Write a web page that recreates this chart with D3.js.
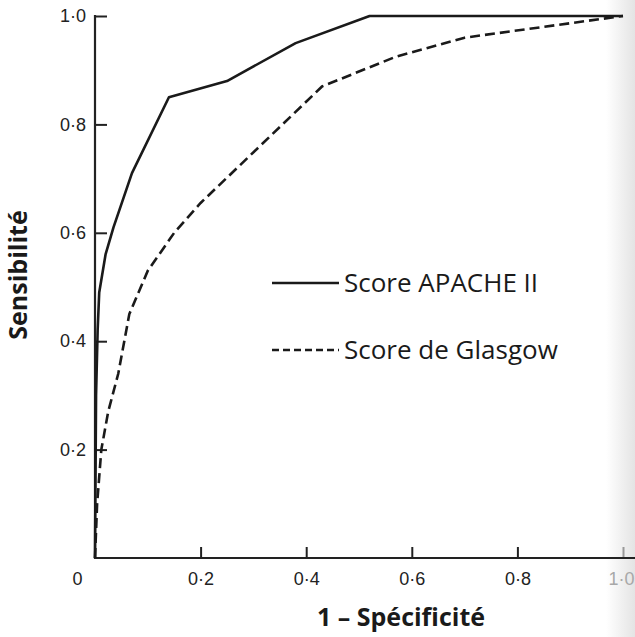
<!DOCTYPE html>
<html lang="fr">
    <head>
        <meta charset="utf-8">
        <script type="text/javascript" src="https://cdn.jsdelivr.net/npm/d3@7"></script>
        <title>Courbes ROC</title>
        <style>
            body { margin: 0; background: #fff; }
        </style>
    </head>
    <body>
        <script type="text/javascript">
            var w = 635;
            var h = 637;

            // data: 1 - specificity (x) and sensitivity (y)
            var apacheX = [0, 0.002, 0.005, 0.008, 0.02, 0.035, 0.07, 0.14, 0.25, 0.38, 0.52, 1.0];
            var apacheY = [0, 0.30, 0.42, 0.49, 0.56, 0.61, 0.71, 0.85, 0.88, 0.95, 1.0, 1.0];

            var glasgowX = [0, 0.004, 0.012, 0.025, 0.044, 0.065, 0.10, 0.15, 0.20, 0.43, 0.57, 0.70, 1.0];
            var glasgowY = [0, 0.10, 0.20, 0.27, 0.34, 0.45, 0.53, 0.60, 0.655, 0.87, 0.925, 0.96, 1.0];

            var xTicks = [0, 0.2, 0.4, 0.6, 0.8, 1.0];
            var yTicks = [0.2, 0.4, 0.6, 0.8, 1.0];

            var seriesNames = ["Score APACHE II", "Score de Glasgow"];

            // scales
            var xScale = d3.scaleLinear()
                            .domain([0, 1])
                            .range([95, 623]);

            var yScale = d3.scaleLinear()
                            .domain([0, 1])
                            .range([558, 16]);

            var svg = d3.select("body")
                        .append("svg")
                        .attr("width", w)
                        .attr("height", h);

            // faint scan shadow along the right edge
            var grad = svg.append("defs")
                        .append("linearGradient")
                        .attr("id", "edge")
                        .attr("x1", "0%").attr("x2", "100%");
            grad.append("stop").attr("offset", "0%").attr("stop-color", "#fff");
            grad.append("stop").attr("offset", "100%").attr("stop-color", "#e4e4e4");
            svg.append("rect")
                .attr("x", 606)
                .attr("y", 0)
                .attr("width", w - 606)
                .attr("height", h)
                .attr("fill", "url(#edge)");

            var fmt = function(d){
                return d === 0 ? "0" : d3.format(".1f")(d).replace(".", "\u00b7");
            };

            // y axis, ticks pointing inwards
            var yAxis = d3.axisLeft(yScale)
                            .tickValues(yTicks)
                            .tickSize(-12)
                            .tickSizeOuter(0)
                            .tickPadding(9)
                            .tickFormat(fmt);

            var gy = svg.append("g")
                        .attr("transform", "translate(" + xScale(0) + ",0)")
                        .call(yAxis);

            // x axis, ticks pointing up
            var xAxis = d3.axisBottom(xScale)
                            .tickValues(xTicks)
                            .tickSize(-11)
                            .tickSizeOuter(0)
                            .tickPadding(14)
                            .tickFormat(fmt);

            var gx = svg.append("g")
                        .attr("transform", "translate(0," + yScale(0) + ")")
                        .call(xAxis);

            [gx, gy].forEach(function(g){
                g.select(".domain").remove();
                g.selectAll(".tick line")
                    .attr("stroke", "#222")
                    .attr("stroke-width", 2);
                g.selectAll(".tick text")
                    .attr("font-family", "'Liberation Sans', Arial, sans-serif")
                    .attr("font-size", "18px")
                    .attr("fill", "#222");
            });

            // the 0 sits left of the corner, with no tick
            gx.selectAll(".tick")
                .filter(function(d){ return d === 0; })
                .call(function(t){
                    t.select("line").remove();
                    t.select("text").attr("x", -18);
                });

            // the 1.0 at the page edge is faded
            gx.selectAll(".tick")
                .filter(function(d){ return d === 1; })
                .call(function(t){
                    t.select("text").attr("fill", "#a8a8a8").attr("x", -2);
                    t.select("line").attr("stroke", "#999");
                });

            // axis lines
            svg.append("line")
                .attr("x1", xScale(0)).attr("x2", xScale(0))
                .attr("y1", yScale(1) - 1).attr("y2", yScale(0) + 1)
                .attr("stroke", "#222")
                .attr("stroke-width", 2.2);

            svg.append("line")
                .attr("x1", xScale(0) - 1).attr("x2", w)
                .attr("y1", yScale(0)).attr("y2", yScale(0))
                .attr("stroke", "#222")
                .attr("stroke-width", 2.2);

            // curves
            var line = d3.line()
                            .x(function(d){ return xScale(d[0]); })
                            .y(function(d){ return yScale(d[1]); });

            var apache = d3.zip(apacheX, apacheY);
            var glasgow = d3.zip(glasgowX, glasgowY);

            svg.append("path")
                .datum(glasgow)
                .attr("d", line)
                .attr("fill", "none")
                .attr("stroke", "#1a1a1a")
                .attr("stroke-width", 2.6)
                .attr("stroke-dasharray", "10,5");

            svg.append("path")
                .datum(apache)
                .attr("d", line)
                .attr("fill", "none")
                .attr("stroke", "#1a1a1a")
                .attr("stroke-width", 2.6)
                .attr("stroke-linejoin", "round");

            // legend
            var legend = svg.selectAll(".legend")
                            .data(seriesNames)
                            .enter()
                            .append("g")
                            .attr("class", "legend")
                            .attr("transform", function(d, i){
                                return "translate(272," + (283 + i * 67) + ")";
                            });

            legend.append("line")
                .attr("x1", 0)
                .attr("x2", 67)
                .attr("stroke", "#1a1a1a")
                .attr("stroke-width", 2.4)
                .attr("stroke-dasharray", function(d, i){
                    return i === 0 ? null : "7,4";
                });

            legend.append("text")
                .text(function(d){ return d; })
                .attr("x", 72)
                .attr("y", 9)
                .attr("font-family", "'Open Sans', sans-serif")
                .attr("font-size", "26px")
                .attr("fill", "#1a1a1a");

            // axis titles
            svg.append("text")
                .text("1 \u2013 Sp\u00e9cificit\u00e9")
                .attr("x", 401)
                .attr("y", 626)
                .attr("text-anchor", "middle")
                .attr("font-family", "'Open Sans', sans-serif")
                .attr("font-weight", "bold")
                .attr("font-size", "25px")
                .attr("fill", "#1a1a1a");

            svg.append("text")
                .text("Sensibilit\u00e9")
                .attr("transform", "translate(27,275) rotate(-90)")
                .attr("text-anchor", "middle")
                .attr("font-family", "'Open Sans', sans-serif")
                .attr("font-weight", "bold")
                .attr("font-size", "25px")
                .attr("fill", "#1a1a1a");
        </script>
    </body>
</html>
